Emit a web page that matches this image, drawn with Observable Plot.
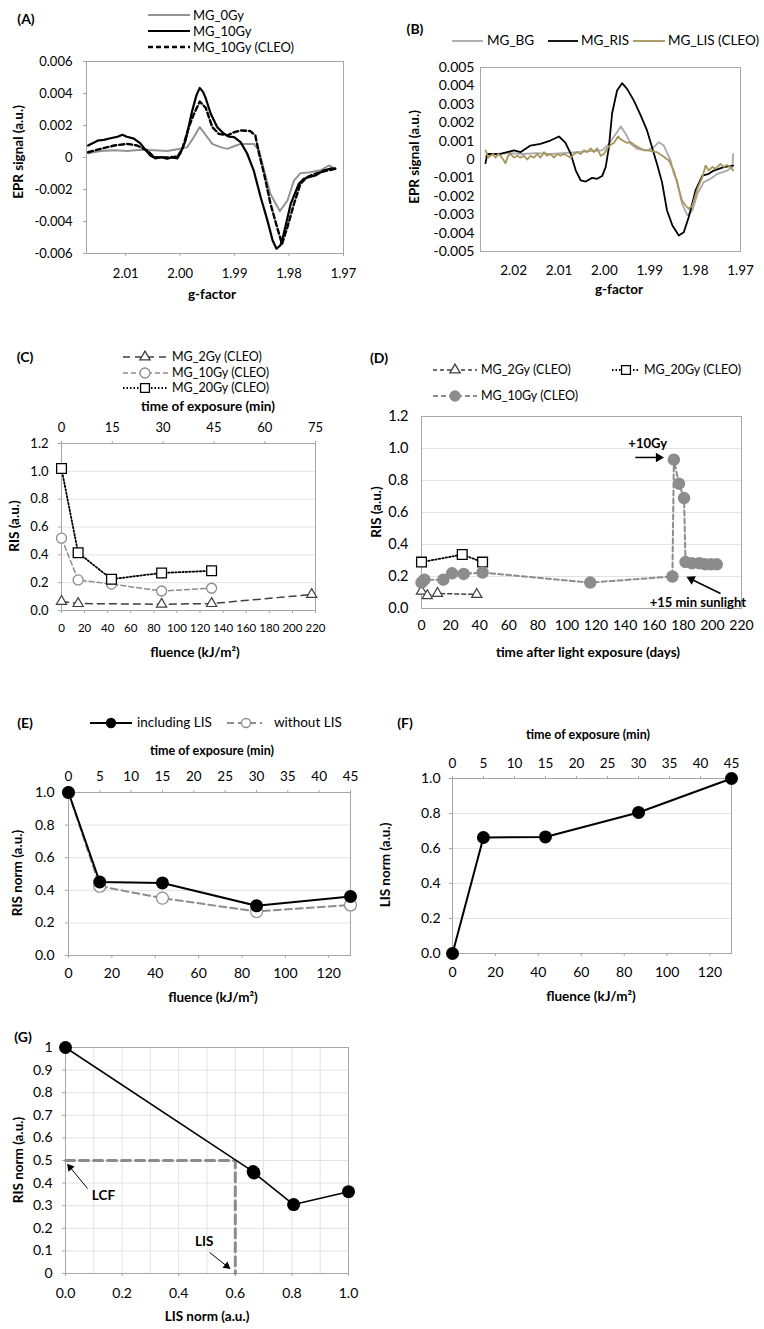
<!DOCTYPE html>
<html><head><meta charset="utf-8">
<script src="https://cdn.jsdelivr.net/npm/d3@7"></script>
<script src="https://cdn.jsdelivr.net/npm/@observablehq/plot@0.6"></script>
<style>
body{margin:0;background:#fff;}
#fig{position:relative;width:764px;height:1329px;overflow:hidden;font-family:Lato,"Open Sans",sans-serif;color:#000;background:#fff;}
.t{position:absolute;white-space:nowrap;line-height:1;}
.b{font-weight:bold;}
.c{transform:translate(-50%,-50%);}
.l{transform:translate(0,-50%);}
.r{transform:translate(-50%,-50%) rotate(-90deg);}
</style></head><body><div id="fig"></div><script>
// ================= DATA =================
// (A) EPR spectra: [g-factor, signal]
const aTicksX = [2.01, 2.00, 1.99, 1.98, 1.97];
const aTicksY = [-0.006, -0.004, -0.002, 0, 0.002, 0.004, 0.006];
const A_0Gy = [[2.0169,0.00027],[2.0146,0.0004],[2.0121,0.00045],[2.0097,0.0004],[2.0073,0.00048],[2.0048,0.00045],[2.0024,0.0004],[1.9999,0.00055],[1.9987,0.00065],[1.9975,0.00127],[1.9964,0.0019],[1.9953,0.0014],[1.9941,0.00085],[1.9926,0.00065],[1.9913,0.00054],[1.9901,0.0007],[1.9889,0.00085],[1.9865,0.00085],[1.9855,0.00044],[1.9846,-0.0008],[1.9834,-0.0023],[1.9817,-0.00335],[1.9803,-0.0027],[1.9791,-0.00144],[1.9779,-0.00098],[1.9761,-0.00092],[1.9742,-0.0008],[1.9727,-0.0005],[1.9715,-0.0007]];
const A_10Gy = [[2.0169,0.00075],[2.0160,0.0009],[2.0152,0.00105],[2.0140,0.0011],[2.0128,0.0012],[2.0115,0.0013],[2.0106,0.00142],[2.0098,0.0013],[2.0085,0.00118],[2.0073,0.00088],[2.0062,0.0004],[2.0054,0.0001],[2.0045,-0.00006],[2.0035,0.00002],[2.0024,-0.00008],[2.0015,0.0],[2.0005,-0.00005],[1.9999,0.0003],[1.9990,0.00106],[1.9978,0.0029],[1.9970,0.0039],[1.9964,0.00435],[1.9958,0.0041],[1.9953,0.0037],[1.9944,0.00275],[1.9932,0.0019],[1.9920,0.0015],[1.9910,0.0013],[1.9901,0.00127],[1.9889,0.00096],[1.9877,0.00025],[1.9865,-0.0008],[1.9852,-0.0025],[1.9840,-0.0039],[1.9830,-0.0052],[1.9823,-0.0057],[1.9816,-0.0055],[1.9810,-0.0048],[1.9797,-0.0029],[1.9782,-0.00164],[1.9773,-0.00133],[1.9760,-0.0012],[1.9750,-0.0011],[1.9736,-0.0008],[1.9725,-0.0007],[1.9715,-0.0007]];
const A_10GyCLEO = [[2.0169,0.00033],[2.0146,0.00054],[2.0121,0.00075],[2.0097,0.00085],[2.0079,0.00075],[2.0060,0.00044],[2.0048,0.00002],[2.0024,0.0],[2.0005,0.00005],[1.9996,0.00054],[1.9984,0.0019],[1.9975,0.0027],[1.9964,0.0035],[1.9953,0.0031],[1.9941,0.0019],[1.9929,0.00148],[1.9913,0.00138],[1.9901,0.00158],[1.9889,0.00169],[1.9871,0.00165],[1.9862,0.00138],[1.9855,0.00023],[1.9846,-0.001],[1.9834,-0.0029],[1.9822,-0.00435],[1.9813,-0.0054],[1.9803,-0.00435],[1.9791,-0.0029],[1.9779,-0.00164],[1.9767,-0.00123],[1.9758,-0.0011],[1.9742,-0.00092],[1.9715,-0.0007]];

// (B) EPR spectra: [g-factor, signal]
const bTicksX = [2.02, 2.01, 2.00, 1.99, 1.98, 1.97];
const bTicksY = [-0.005,-0.004,-0.003,-0.002,-0.001,0,0.001,0.002,0.003,0.004,0.005];
const B_BG = [[2.0262,0.0002],[2.0240,0.0003],[2.0210,0.00035],[2.0180,0.0003],[2.0150,0.00035],[2.0120,0.0003],[2.0090,0.00035],[2.0060,0.0004],[2.0030,0.00045],[2.0005,0.0005],[1.9990,0.00085],[1.9972,0.0015],[1.9964,0.0018],[1.9953,0.0014],[1.9942,0.00085],[1.9928,0.00058],[1.9906,0.0005],[1.9891,0.00067],[1.9880,0.00094],[1.9869,0.00076],[1.9854,-0.00005],[1.9847,-0.00078],[1.9840,-0.00114],[1.9829,-0.0024],[1.9817,-0.00304],[1.9806,-0.00277],[1.9795,-0.00187],[1.9781,-0.00123],[1.9766,-0.00105],[1.9751,-0.00078],[1.9729,-0.0006],[1.9718,-0.0004],[1.9716,0.0003]];
const B_RIS = [[2.0262,-0.0002],[2.0258,0.0003],[2.0229,0.0003],[2.0199,0.0005],[2.0185,0.0004],[2.0163,0.00076],[2.0141,0.00085],[2.0119,0.00103],[2.0100,0.00125],[2.0086,0.00092],[2.0074,0.0003],[2.0063,-0.0006],[2.0052,-0.00114],[2.0041,-0.0012],[2.0027,-0.001],[2.0016,-0.00105],[2.0005,-0.0009],[1.9997,-0.0004],[1.9990,0.00067],[1.9983,0.0025],[1.9972,0.00375],[1.9961,0.00415],[1.9950,0.00384],[1.9935,0.0032],[1.9920,0.0024],[1.9906,0.00158],[1.9895,0.00067],[1.9884,-0.00024],[1.9873,-0.00123],[1.9862,-0.00277],[1.9850,-0.00359],[1.9836,-0.00413],[1.9825,-0.00395],[1.9814,-0.00313],[1.9799,-0.00168],[1.9784,-0.00087],[1.9770,-0.00078],[1.9759,-0.0006],[1.9737,-0.00042],[1.9716,-0.00033]];
const B_LIS = [[2.0262,0.0005],[2.0256,0.0001],[2.0251,0.0002],[2.0245,0.0003],[2.0240,0.0001],[2.0234,0.0003],[2.0229,0.0002],[2.0223,0.0],[2.0218,-0.0002],[2.0212,0.0002],[2.0207,0.0003],[2.0199,0.0001],[2.0192,0.0002],[2.0185,0.0001],[2.0177,0.0002],[2.0170,0.0],[2.0163,0.0002],[2.0155,0.0001],[2.0148,0.0003],[2.0141,0.0001],[2.0133,0.0004],[2.0126,0.0002],[2.0119,0.0003],[2.0111,0.0001],[2.0104,0.0003],[2.0097,0.0002],[2.0089,0.0003],[2.0082,0.0002],[2.0074,0.0001],[2.0067,0.0003],[2.0060,0.0004],[2.0052,0.0003],[2.0045,0.0005],[2.0038,0.0004],[2.0030,0.0006],[2.0023,0.0004],[2.0016,0.0006],[2.0008,0.0002],[2.0001,0.0003],[1.9994,0.0006],[1.9986,0.0008],[1.9979,0.0009],[1.9970,0.00125],[1.9964,0.0011],[1.9957,0.001],[1.9950,0.0009],[1.9942,0.00094],[1.9935,0.0008],[1.9928,0.0007],[1.9920,0.0006],[1.9913,0.0005],[1.9906,0.0005],[1.9895,0.00045],[1.9884,0.0004],[1.9869,0.00015],[1.9858,-0.00005],[1.9847,-0.0006],[1.9836,-0.0016],[1.9829,-0.00223],[1.9821,-0.0025],[1.9814,-0.00268],[1.9806,-0.0025],[1.9795,-0.0016],[1.9784,-0.00096],[1.9777,-0.00033],[1.9770,-0.0006],[1.9762,-0.0004],[1.9755,-0.0005],[1.9744,-0.00024],[1.9737,-0.0004],[1.9730,-0.0003],[1.9722,-0.0004],[1.9716,-0.0006]];

// (C) RIS vs fluence
const cTicksFluence = [0,20,40,60,80,100,120,140,160,180,200,220];
const cTicksMin = [0,15,30,45,60,75];
const cTicksY = [0,0.2,0.4,0.6,0.8,1.0,1.2];
const cFluence = [0,14.4,43.3,86.7,130];
const c2Fluence = [0,14.4,86.7,130,216.7];
const c2Gy = [0.065,0.05,0.045,0.05,0.115];
const c10Gy = [0.52,0.22,0.19,0.14,0.16];
const c20Gy = [1.02,0.415,0.225,0.27,0.285];

// (D) RIS vs days after exposure
const dTicksX = [0,20,40,60,80,100,120,140,160,180,200,220];
const dTicksY = [0,0.2,0.4,0.6,0.8,1.0,1.2];
const dDays2 = [0,4,11,38];
const dRis2 = [0.108,0.08,0.094,0.088];
const dDays20 = [0,28,42];
const dRis20 = [0.29,0.337,0.29];
const dDays10 = [0,2,15,21,29,42,116,172.5,173.5,177,180.5,181.5,186,191,195,199,203];
const dRis10 = [0.162,0.18,0.18,0.22,0.216,0.225,0.162,0.2,0.93,0.78,0.69,0.29,0.283,0.283,0.276,0.276,0.276];

// (E)(F)(G) normalised
const efTicksFluence = [0,20,40,60,80,100,120];
const efTicksMin = [0,5,10,15,20,25,30,35,40,45];
const efTicksY = [0,0.2,0.4,0.6,0.8,1.0];
const efFluence = [0,14.4,43.3,86.7,130];
const risInclLIS = [1.0,0.451,0.445,0.305,0.362];
const risExclLIS = [1.0,0.425,0.352,0.27,0.31];
const lisNorm = [0,0.663,0.666,0.806,1.0];
const gTicksX = [0,0.2,0.4,0.6,0.8,1.0];
const gTicksY = [0,0.1,0.2,0.3,0.4,0.5,0.6,0.7,0.8,0.9,1];
const lcfRIS = 0.5, lcfLIS = 0.6;

// ================= HELPERS =================
const fig = document.getElementById("fig");
const FR = "#a6a6a6", GR = "#e3e3e3";
const GRAY = "#8c8c8c", OLIVE = "#a6955c";
function txt(s, x, y, cls, size){
  const d = document.createElement("div");
  d.className = "t " + cls; d.style.left = x + "px"; d.style.top = y + "px";
  d.style.fontSize = size + "px"; d.textContent = s; fig.appendChild(d);
}
function mk(box, x, y, marks){
  const ml = 75, mr = 25, mt = 35, mb = 35;
  const w = box.R - box.L + ml + mr, h = box.B - box.T + mt + mb;
  const svg = Plot.plot({
    width: w, height: h, marginLeft: ml, marginRight: mr, marginTop: mt, marginBottom: mb,
    style: {fontFamily: "Lato, 'Open Sans', sans-serif", fontSize: "13px", background: "transparent", overflow: "visible", color: "#000"},
    x: {...x, label: null}, y: {...y, label: null}, marks
  });
  svg.style.position = "absolute"; svg.style.left = (box.L - ml) + "px"; svg.style.top = (box.T - mt) + "px";
  svg.style.maxWidth = "none";
  fig.appendChild(svg);
}
const ns = "http://www.w3.org/2000/svg";
function swatch(x1, x2, y, st){
  const w = x2 - x1 + 20;
  const s = document.createElementNS(ns, "svg");
  s.setAttribute("width", w); s.setAttribute("height", 20);
  s.style.cssText = `position:absolute;left:${x1-10}px;top:${y-10}px;overflow:visible`;
  let h = `<line x1="10" x2="${w-10}" y1="10" y2="10" stroke="${st.stroke}" stroke-width="${st.width}" ${st.dash ? `stroke-dasharray="${st.dash}"` : ""}/>`;
  if (st.sym){
    const t = st.sym === "square" ? d3.symbolSquare : st.sym === "triangle" ? d3.symbolTriangle : d3.symbolCircle;
    const p = d3.symbol(t, Math.PI * st.r * st.r)();
    h += `<path transform="translate(${st.mx - x1 + 10},10)" d="${p}" fill="${st.fill}" stroke="${st.symStroke || st.stroke}" stroke-width="1.3"/>`;
  }
  s.innerHTML = h; fig.appendChild(s);
}
const zip = (xs, ys) => xs.map((v, i) => [v, ys[i]]);
const gx = d => d[0], gy = d => d[1];
const f1 = d3.format(".1f");
const f2 = d3.format(".2f");
const fE = v => Math.abs(v) < 1e-12 ? "0" : v.toFixed(3);

// ================= (A) =================
mk({L: 86, R: 343, T: 61, B: 253}, {domain: [2.0172, 1.97]}, {domain: [-0.006, 0.006]}, [
  Plot.frame({stroke: FR}),
  Plot.axisY({ticks: aTicksY, tickFormat: fE, tickSize: 3, tickPadding: 11, stroke: FR, fontSize: 13}),
  Plot.axisX({ticks: aTicksX, tickFormat: f2, tickSize: 3, tickPadding: 12, stroke: FR, fontSize: 13}),
  Plot.line(A_0Gy, {x: gx, y: gy, stroke: "#939393", strokeWidth: 2}),
  Plot.line(A_10GyCLEO, {x: gx, y: gy, stroke: "#000", strokeWidth: 2.4, strokeDasharray: "5,3"}),
  Plot.line(A_10Gy, {x: gx, y: gy, stroke: "#000", strokeWidth: 2.2})
]);
txt("(A)", 26, 19, "b c", 14);
swatch(148, 190, 15, {stroke: "#939393", width: 2});
swatch(148, 190, 31, {stroke: "#000", width: 2.2});
swatch(148, 190, 47, {stroke: "#000", width: 2.4, dash: "5,3"});
txt("MG_0Gy", 193, 15, "l", 13);
txt("MG_10Gy", 193, 31, "l", 13);
txt("MG_10Gy (CLEO)", 193, 47, "l", 13);
txt("EPR signal (a.u.)", 19, 152, "b r", 13.5);
txt("g-factor", 212, 295, "b c", 13.5);

// ================= (B) =================
mk({L: 480, R: 740, T: 67, B: 251}, {domain: [2.0273, 1.97]}, {domain: [-0.005, 0.005]}, [
  Plot.frame({stroke: FR}),
  Plot.axisY({ticks: bTicksY, tickFormat: fE, tickSize: 0, tickPadding: 6, fontSize: 14}),
  Plot.axisX({ticks: bTicksX, tickFormat: f2, tickSize: 0, tickPadding: 14, fontSize: 13.5}),
  Plot.line(B_BG, {x: gx, y: gy, stroke: "#a9a9a9", strokeWidth: 1.8}),
  Plot.line(B_RIS, {x: gx, y: gy, stroke: "#000", strokeWidth: 1.8}),
  Plot.line(B_LIS, {x: gx, y: gy, stroke: OLIVE, strokeWidth: 1.8})
]);
txt("(B)", 415, 29, "b c", 14);
swatch(452, 483, 41, {stroke: "#a9a9a9", width: 1.8});
swatch(548, 578, 41, {stroke: "#000", width: 1.8});
swatch(633, 665, 41, {stroke: OLIVE, width: 1.8});
txt("MG_BG", 487, 41, "l", 13.5);
txt("MG_RIS", 581, 41, "l", 13.5);
txt("MG_LIS (CLEO)", 668, 41, "l", 13.5);
txt("EPR signal (a.u.)", 415, 157, "b r", 13.5);
txt("g-factor", 619, 290, "b c", 13.5);

// ================= (C) =================
const kC = 220 / 75;
mk({L: 61, R: 315, T: 443, B: 610}, {domain: [0, 220]}, {domain: [0, 1.2]}, [
  Plot.gridY({ticks: cTicksY, stroke: GR, strokeOpacity: 1}),
  Plot.frame({stroke: FR}),
  Plot.axisY({ticks: cTicksY, tickFormat: f1, tickSize: 3, tickPadding: 10, stroke: FR, fontSize: 13}),
  Plot.axisX({ticks: cTicksFluence, tickSize: 3, tickPadding: 10, stroke: FR, fontSize: 11.5, letterSpacing: "-0.2px"}),
  Plot.axisX({anchor: "top", ticks: cTicksMin.map(t => t * kC), tickFormat: v => String(Math.round(v / kC)), tickSize: 3, tickPadding: 9, stroke: FR, fontSize: 13}),
  Plot.line(zip(c2Fluence, c2Gy), {x: gx, y: gy, stroke: "#404040", strokeWidth: 1.5, strokeDasharray: "7,5"}),
  Plot.line(zip(cFluence, c10Gy), {x: gx, y: gy, stroke: GRAY, strokeWidth: 1.5, strokeDasharray: "5,3"}),
  Plot.line(zip(cFluence, c20Gy), {x: gx, y: gy, stroke: "#000", strokeWidth: 1.8, strokeDasharray: "1.5,2"}),
  Plot.dot(zip(c2Fluence, c2Gy), {x: gx, y: gy, symbol: "triangle", r: 3.8, stroke: "#404040", fill: "white", strokeWidth: 1.2}),
  Plot.dot(zip(cFluence, c10Gy), {x: gx, y: gy, symbol: "circle", r: 5, stroke: GRAY, fill: "white", strokeWidth: 1.3}),
  Plot.dot(zip(cFluence, c20Gy), {x: gx, y: gy, symbol: "square", r: 5.5, stroke: "#000", fill: "white", strokeWidth: 1.3})
]);
txt("(C)", 25, 357, "b c", 14);
swatch(123, 168, 357, {stroke: "#404040", width: 1.5, dash: "7,5", sym: "triangle", r: 3.8, mx: 145, fill: "white"});
swatch(123, 168, 373, {stroke: GRAY, width: 1.5, dash: "5,3", sym: "circle", r: 5, mx: 145, fill: "white"});
swatch(123, 168, 388, {stroke: "#000", width: 1.8, dash: "1.5,2", sym: "square", r: 5, mx: 145, fill: "white"});
txt("MG_2Gy (CLEO)", 172, 357, "l", 12.5);
txt("MG_10Gy (CLEO)", 172, 373, "l", 12.5);
txt("MG_20Gy (CLEO)", 172, 388, "l", 12.5);
txt("time of exposure (min)", 208, 407, "b c", 13.5);
txt("RIS (a.u.)", 15, 526, "b r", 13.5);
txt("fluence (kJ/m²)", 195, 653, "b c", 13.5);

// ================= (D) =================
const annD = [{x1: 147, y1: 0.944, x2: 163, y2: 0.944, rot: 90}, {x1: 205.6, y1: 0.094, x2: 185.5, y2: 0.183, rot: -64}];
mk({L: 421, R: 741, T: 416, B: 608}, {domain: [0, 220]}, {domain: [0, 1.2]}, [
  Plot.gridY({ticks: dTicksY, stroke: GR, strokeOpacity: 1}),
  Plot.frame({stroke: FR}),
  Plot.axisY({ticks: dTicksY, tickFormat: f1, tickSize: 0, tickPadding: 13, fontSize: 14.5}),
  Plot.axisX({ticks: dTicksX, tickSize: 0, tickPadding: 12, fontSize: 14}),
  Plot.line(zip(dDays2, dRis2), {x: gx, y: gy, stroke: "#404040", strokeWidth: 1.5, strokeDasharray: "4,3"}),
  Plot.line(zip(dDays20, dRis20), {x: gx, y: gy, stroke: "#000", strokeWidth: 1.8, strokeDasharray: "1.5,2"}),
  Plot.line(zip(dDays10, dRis10), {x: gx, y: gy, stroke: GRAY, strokeWidth: 2, strokeDasharray: "5,3"}),
  Plot.dot(zip(dDays2, dRis2), {x: gx, y: gy, symbol: "triangle", r: 3.8, stroke: "#404040", fill: "white", strokeWidth: 1.2}),
  Plot.dot(zip(dDays20, dRis20), {x: gx, y: gy, symbol: "square", r: 5.5, stroke: "#000", fill: "white", strokeWidth: 1.3}),
  Plot.dot(zip(dDays10, dRis10), {x: gx, y: gy, symbol: "circle", r: 5.5, fill: GRAY, stroke: GRAY}),
  Plot.link(annD, {x1: "x1", y1: "y1", x2: "x2", y2: "y2", stroke: "#000", strokeWidth: 1.5}),
  Plot.dot(annD, {x: "x2", y: "y2", symbol: "triangle", r: 3.5, fill: "#000", rotate: "rot"}),
  Plot.text(["+10Gy"], {x: 155.5, y: 1.031, text: d => d, fontWeight: "bold", fontSize: 13}),
  Plot.text(["+15 min sunlight"], {x: 190, y: 0.035, text: d => d, fontWeight: "bold", fontSize: 13})
]);
txt("(D)", 379, 358, "b c", 14);
swatch(433, 477, 370, {stroke: "#404040", width: 1.5, dash: "4,3", sym: "triangle", r: 3.8, mx: 455, fill: "white"});
swatch(612, 640, 370, {stroke: "#000", width: 1.8, dash: "1.5,2", sym: "square", r: 5, mx: 626, fill: "white"});
swatch(433, 477, 396, {stroke: GRAY, width: 2, dash: "5,3", sym: "circle", r: 5, mx: 455, fill: GRAY, symStroke: GRAY});
txt("MG_2Gy (CLEO)", 481, 370, "l", 12.5);
txt("MG_20Gy (CLEO)", 644, 370, "l", 12.5);
txt("MG_10Gy (CLEO)", 481, 396, "l", 12.5);
txt("RIS (a.u.)", 377, 512, "b r", 13.5);
txt("time after light exposure (days)", 588, 653, "b c", 13.5);

// ================= (E) =================
const kE = 130 / 45;
mk({L: 68, R: 350, T: 792, B: 955}, {domain: [0, 130]}, {domain: [0, 1.0]}, [
  Plot.gridY({ticks: efTicksY, stroke: GR, strokeOpacity: 1}),
  Plot.frame({stroke: FR}),
  Plot.axisY({ticks: efTicksY, tickFormat: f1, tickSize: 3, tickPadding: 11, stroke: FR, fontSize: 14}),
  Plot.axisX({ticks: efTicksFluence, tickSize: 3, tickPadding: 10, stroke: FR, fontSize: 14}),
  Plot.axisX({anchor: "top", ticks: efTicksMin.map(t => t * kE), tickFormat: v => String(Math.round(v / kE)), tickSize: 3, tickPadding: 9, stroke: FR, fontSize: 13.5}),
  Plot.line(zip(efFluence, risExclLIS), {x: gx, y: gy, stroke: GRAY, strokeWidth: 2, strokeDasharray: "7,4"}),
  Plot.line(zip(efFluence, risInclLIS), {x: gx, y: gy, stroke: "#000", strokeWidth: 2}),
  Plot.dot(zip(efFluence, risExclLIS), {x: gx, y: gy, r: 6, stroke: GRAY, fill: "white", strokeWidth: 1.2}),
  Plot.dot(zip(efFluence, risInclLIS), {x: gx, y: gy, r: 6.5, fill: "#000"})
]);
txt("(E)", 25, 723, "b c", 14);
swatch(90, 132, 723, {stroke: "#000", width: 2, sym: "circle", r: 4.5, mx: 111, fill: "#000"});
swatch(227, 262, 723, {stroke: GRAY, width: 2, dash: "7,4", sym: "circle", r: 4.5, mx: 246, fill: "white", symStroke: GRAY});
txt("including LIS", 137, 723, "l", 13.5);
txt("without LIS", 274, 723, "l", 13.5);
txt("time of exposure (min)", 212, 751, "b c", 12.5);
txt("RIS norm (a.u.)", 18, 873, "b r", 13.5);
txt("fluence (kJ/m²)", 213, 998, "b c", 13.5);

// ================= (F) =================
mk({L: 452, R: 731, T: 778, B: 953}, {domain: [0, 130]}, {domain: [0, 1.0]}, [
  Plot.gridY({ticks: efTicksY, stroke: GR, strokeOpacity: 1}),
  Plot.frame({stroke: FR}),
  Plot.axisY({ticks: efTicksY, tickFormat: f1, tickSize: 3, tickPadding: 9, stroke: FR, fontSize: 14}),
  Plot.axisX({ticks: efTicksFluence, tickSize: 3, tickPadding: 11, stroke: FR, fontSize: 14}),
  Plot.axisX({anchor: "top", ticks: efTicksMin.map(t => t * kE), tickFormat: v => String(Math.round(v / kE)), tickSize: 3, tickPadding: 8, stroke: FR, fontSize: 13.5}),
  Plot.line(zip(efFluence, lisNorm), {x: gx, y: gy, stroke: "#000", strokeWidth: 2}),
  Plot.dot(zip(efFluence, lisNorm), {x: gx, y: gy, r: 6.5, fill: "#000"})
]);
txt("(F)", 405, 723, "b c", 14);
txt("time of exposure (min)", 588, 735, "b c", 12.5);
txt("LIS norm (a.u.)", 386, 865, "b r", 13.5);
txt("fluence (kJ/m²)", 591, 997, "b c", 13.5);

// ================= (G) =================
const annG = [{x1: 0.078, y1: 0.376, x2: 0.016, y2: 0.47, rot: -40}, {x1: 0.509, y1: 0.093, x2: 0.57, y2: 0.033, rot: 128}];
mk({L: 65, R: 348, T: 1047, B: 1273}, {domain: [0, 1]}, {domain: [0, 1]}, [
  Plot.gridY({ticks: gTicksY, stroke: GR, strokeOpacity: 1}),
  Plot.gridX({ticks: gTicksY, stroke: GR, strokeOpacity: 1}),
  Plot.frame({stroke: FR}),
  Plot.axisY({ticks: gTicksY, tickFormat: v => (v === 0 || v === 1) ? String(v) : f1(v), tickSize: 3, tickPadding: 10, stroke: FR, fontSize: 14}),
  Plot.axisX({ticks: gTicksX, tickFormat: f1, tickSize: 3, tickPadding: 12, stroke: FR, fontSize: 14}),
  Plot.line([[0, lcfRIS], [lcfLIS, lcfRIS], [lcfLIS, 0]], {x: gx, y: gy, stroke: GRAY, strokeWidth: 3, strokeDasharray: "9,5"}),
  Plot.line(zip(lisNorm, risInclLIS), {x: gx, y: gy, stroke: "#000", strokeWidth: 1.5}),
  Plot.dot(zip(lisNorm, risInclLIS), {x: gx, y: gy, r: 6.5, fill: "#000"}),
  Plot.link(annG, {x1: "x1", y1: "y1", x2: "x2", y2: "y2", stroke: "#000", strokeWidth: 1}),
  Plot.dot(annG, {x: "x2", y: "y2", symbol: "triangle", r: 3, fill: "#000", rotate: "rot"}),
  Plot.text(["LCF"], {x: 0.134, y: 0.345, text: d => d, fontWeight: "bold", fontSize: 13.5}),
  Plot.text(["LIS"], {x: 0.49, y: 0.14, text: d => d, fontWeight: "bold", fontSize: 13.5})
]);
txt("(G)", 23, 1037, "b c", 14);
txt("RIS norm (a.u.)", 19, 1160, "b r", 13.5);
txt("LIS norm (a.u.)", 207, 1317, "b c", 13.5);
</script></body></html>
